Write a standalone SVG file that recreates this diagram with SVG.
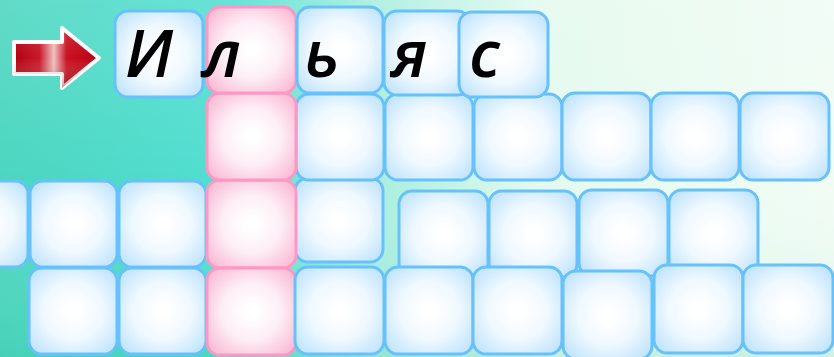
<svg xmlns="http://www.w3.org/2000/svg" width="834" height="357" viewBox="0 0 834 357">
<defs>
<linearGradient id="bg" x1="0" y1="0" x2="1" y2="0">
<stop offset="0" stop-color="#4cd6c0"/>
<stop offset="0.28" stop-color="#52dfd2"/>
<stop offset="0.45" stop-color="#a8eedf"/>
<stop offset="0.65" stop-color="#e4faee"/>
<stop offset="1" stop-color="#f1fcf5"/>
</linearGradient>
<linearGradient id="bgv" x1="0" y1="0" x2="0" y2="1">
<stop offset="0" stop-color="#ffffff" stop-opacity="0.12"/>
<stop offset="0.5" stop-color="#ffffff" stop-opacity="0"/>
<stop offset="1" stop-color="#30b890" stop-opacity="0.18"/>
</linearGradient>
<radialGradient id="gb" cx="0.5" cy="0.5" r="0.6">
<stop offset="0.1" stop-color="#ffffff"/>
<stop offset="0.55" stop-color="#f0f9ff"/>
<stop offset="1" stop-color="#c6e6fd"/>
</radialGradient>
<radialGradient id="gp" cx="0.5" cy="0.5" r="0.6">
<stop offset="0.1" stop-color="#ffffff"/>
<stop offset="0.55" stop-color="#fdeef5"/>
<stop offset="1" stop-color="#fbc0d8"/>
</radialGradient>
<linearGradient id="ar" x1="0" y1="0" x2="1" y2="0">
<stop offset="0" stop-color="#b00010"/>
<stop offset="0.3" stop-color="#c81828"/>
<stop offset="0.47" stop-color="#f0c0c0"/>
<stop offset="0.62" stop-color="#c81020"/>
<stop offset="1" stop-color="#b80010"/>
</linearGradient>
<linearGradient id="arv" x1="0" y1="0" x2="0" y2="1">
<stop offset="0" stop-color="#ffffff" stop-opacity="0.12"/>
<stop offset="0.5" stop-color="#ffffff" stop-opacity="0"/>
<stop offset="1" stop-color="#500000" stop-opacity="0.4"/>
</linearGradient>
</defs>
<style>
.b{fill:url(#gb);stroke:#66c1fc;stroke-width:3}
.p{fill:url(#gp);stroke:#fd98c4;stroke-width:3}
.t{font-family:"Open Sans","Liberation Sans",sans-serif;font-style:italic;font-weight:600;font-size:66px;fill:#000}
</style>
<rect x="0" y="0" width="834" height="357" fill="url(#bg)"/>
<rect x="0" y="0" width="834" height="357" fill="url(#bgv)"/>

<g id="arrow">
<path d="M14,42 H62 V28 L99,58 L62,88 V74 H14 Z" fill="url(#ar)" stroke="#ffffff" stroke-width="4" stroke-linejoin="round"/>
<path d="M14,42 H62 V28 L99,58 L62,88 V74 H14 Z" fill="url(#arv)"/>
</g>

<g id="row3">
<rect class="b" x="-60" y="181" width="88" height="86" rx="13"/>
<rect class="b" x="30" y="181" width="87" height="86" rx="13"/>
<rect class="b" x="119" y="181" width="87" height="86" rx="13"/>
<rect class="b" x="295" y="178" width="88" height="84" rx="13"/>
<rect class="b" x="399" y="191" width="89" height="86" rx="13"/>
<rect class="b" x="489" y="191" width="88" height="86" rx="13"/>
<rect class="b" x="579" y="190" width="89" height="86" rx="13"/>
<rect class="b" x="669" y="190" width="89" height="86" rx="13"/>
<rect class="p" x="207" y="180" width="89" height="88" rx="13"/>
</g>

<g id="row4">
<rect class="b" x="29" y="268" width="88" height="86" rx="13"/>
<rect class="b" x="119" y="268" width="87" height="86" rx="13"/>
<rect class="p" x="207" y="268" width="89" height="87" rx="13"/>
<rect class="b" x="295" y="267" width="89" height="87" rx="13"/>
<rect class="b" x="385" y="267" width="88" height="87" rx="13"/>
<rect class="b" x="473" y="267" width="89" height="87" rx="13"/>
<rect class="b" x="563" y="271" width="89" height="88" rx="13"/>
<rect class="b" x="654" y="265" width="89" height="88" rx="13"/>
<rect class="b" x="743" y="265" width="90" height="88" rx="13"/>
</g>

<g id="row2">
<rect class="b" x="296" y="94" width="88" height="86" rx="13"/>
<rect class="b" x="385" y="94" width="88" height="86" rx="13"/>
<rect class="b" x="474" y="94" width="88" height="86" rx="13"/>
<rect class="b" x="562" y="93" width="89" height="87" rx="13"/>
<rect class="b" x="651" y="93" width="88" height="87" rx="13"/>
<rect class="b" x="740" y="93" width="89" height="87" rx="13"/>
<rect class="p" x="207" y="93" width="89" height="87" rx="13"/>
</g>

<g id="row1">
<g id="c1"><rect class="b" x="115" y="11" width="88" height="86" rx="13"/><text class="t" x="125" y="77">И</text></g>
<g id="c2"><rect class="p" x="207" y="7" width="89" height="86" rx="13"/><text class="t" x="203" y="77">л</text></g>
<g id="c3"><rect class="b" x="297" y="7" width="86" height="86" rx="13"/><text class="t" x="304" y="77">ь</text></g>
<g id="c4"><rect class="b" x="384" y="11" width="86" height="84" rx="13"/><text class="t" x="391" y="77">я</text></g>
<g id="c5"><rect class="b" x="459" y="12" width="89" height="85" rx="13"/><text class="t" x="469" y="77">с</text></g>
</g>
</svg>
